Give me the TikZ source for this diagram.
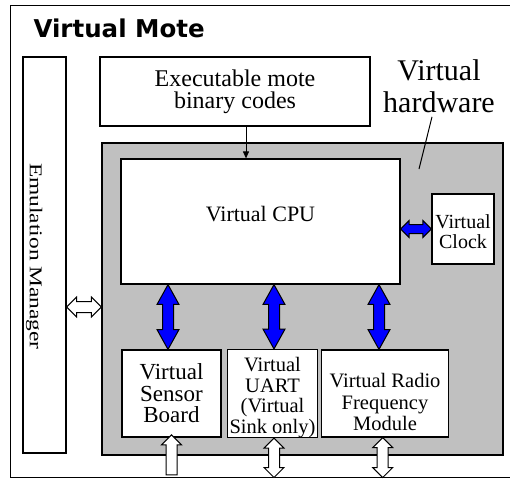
\documentclass[tikz,border=0pt]{standalone}
\usepackage{fontspec}
\setmainfont{Liberation Serif}
\newfontfamily\titlefont{DejaVu Sans}
\usetikzlibrary{calc, shapes.arrows, arrows.meta}

\definecolor{hwgray}{RGB}{192,192,192}
\definecolor{busblue}{RGB}{0,0,255}
\newcommand{\fs}[2]{\fontsize{#1}{#2}\selectfont}
% block arrow node stretched between two named points
\newcommand{\blockarrow}[3]{%
  \path let \p1=($(#3)-(#2)$), \n1={veclen(\x1,\y1)}, \n2={atan2(\y1,\x1)} in
    node[#1, rotate=\n2, minimum height=\n1] at ($(#2)!0.5!(#3)$) {};}

\tikzset{
  box/.style={draw, line width=1.2pt, fill=white, inner sep=0pt, align=center},
  busarrow/.style={double arrow, draw=black, fill=busblue, line width=1pt,
    inner xsep=0pt, inner ysep=5pt, double arrow head extend=5.5pt,
    double arrow tip angle=58, double arrow head indent=0pt},
  clkarrow/.style={busarrow, inner ysep=4pt, double arrow head extend=4pt,
    double arrow tip angle=90},
  ioarrow/.style={double arrow, draw=black, fill=white, line width=1pt,
    inner xsep=0pt, inner ysep=5pt, double arrow head extend=4.5pt,
    double arrow tip angle=90, double arrow head indent=0pt},
  inarrow/.style={single arrow, draw=black, fill=white, line width=1pt,
    inner xsep=0pt, inner ysep=5pt, single arrow head extend=4.5pt,
    single arrow tip angle=90, single arrow head indent=0pt}
}

\begin{document}
\begin{tikzpicture}[x=1pt, y=-1pt]
  \useasboundingbox (0,0) rectangle (510,480);

  \node[draw, line width=1pt, minimum width=515, minimum height=472] (mote) at (267.5,241) {};
  \node[anchor=base west, font=\titlefont\bfseries\fs{24.5}{24}] (title) at (30,37) {Virtual Mote};

  % emulation manager on the left
  \node[box, minimum width=43, minimum height=396] (emu) at (44.5,255) {};
  \node[rotate=-90, font=\fs{18}{18}] (emutext) at ($(emu.center)+(-10.3,1.5)$)
    {\scalebox{1.3}[1]{Emulation Manager}};

  \node[box, minimum width=270, minimum height=69, font=\fs{24}{22}] (exec) at (235,91.5)
    {Executable mote\\binary codes};

  % virtual hardware
  \node[draw, line width=1.2pt, fill=hwgray, minimum width=401, minimum height=312] (hw) at (302.5,299) {};
  \node[align=center, font=\fs{30}{32}] (hwlabel) at (439,85.75) {Virtual\\hardware};
  \coordinate (hw-tip) at (419,169);
  \draw[line width=1pt] ($(hwlabel.south)+(-7,1)$) -- (hw-tip);

  \node[box, minimum width=279, minimum height=125, text depth=14.6pt, font=\fs{22}{22}] (cpu) at (260.5,221.5)
    {Virtual CPU};
  \node[box, minimum width=62, minimum height=70, font=\fs{20}{20}] (clock) at (463,229)
    {\rule{0pt}{20pt}Virtual\\Clock};
  \node[box, minimum width=99, minimum height=87, font=\fs{23}{21.5}] (sensor) at (171.5,393.5)
    {Virtual\\Sensor\\Board};
  \node[box, minimum width=90, minimum height=87, font=\fs{20.5}{20.5}] (uart) at (272.5,393.5)
    {\rule{0pt}{22pt}Virtual\\UART\\(Virtual\\Sink only)};
  \node[box, minimum width=127, minimum height=87, font=\fs{20.5}{21.5}] (radio) at (385,393.5)
    {\rule{0pt}{32pt}Virtual Radio\\Frequency\\Module};

  % code goes into the cpu
  \coordinate (exec-out) at ($(exec.south)+(11,0)$);
  \draw[line width=1pt, -{Triangle[length=7pt,width=6pt]}] (exec-out) -- (exec-out |- cpu.north);

  % buses
  \foreach \b/\dx in {sensor/-3.5, uart/1.5, radio/-6} {
    \coordinate (\b-top) at ($(\b.north)+(\dx,0)$);
    \coordinate (\b-cpu) at (cpu.south -| \b-top);
    \blockarrow{busarrow}{\b-cpu}{\b-top}
  }
  \coordinate (cpu-clk) at (cpu.east |- clock.west);
  \blockarrow{clkarrow}{cpu-clk}{clock.west}

  % outside connections
  \coordinate (emu-io) at ($(emu.east)+(0,52)$);
  \coordinate (hw-io) at (hw.west |- emu-io);
  \blockarrow{ioarrow}{emu-io}{hw-io}
  \coordinate (sensor-in) at (sensor.south |- mote.south);
  \blockarrow{inarrow}{sensor-in}{sensor.south}
  \coordinate (uart-bot) at ($(uart.south)+(1.5,0)$);
  \coordinate (uart-io) at (uart-bot |- mote.south);
  \blockarrow{ioarrow}{uart-io}{uart-bot}
  \coordinate (radio-bot) at ($(radio.south)+(-2.3,0)$);
  \coordinate (radio-io) at (radio-bot |- mote.south);
  \blockarrow{ioarrow}{radio-io}{radio-bot}
\end{tikzpicture}
\end{document}
